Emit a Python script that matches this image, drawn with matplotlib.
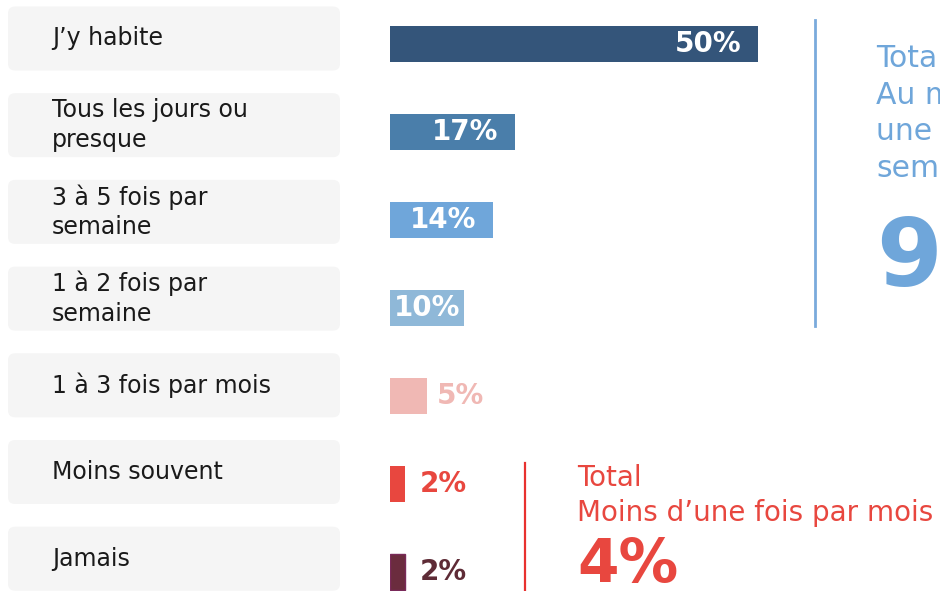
import matplotlib.pyplot as plt
from matplotlib.patches import FancyBboxPatch

# Data
categories = ["J\u2019y habite", "Tous les jours ou\npresque", "3 \u00e0 5 fois par\nsemaine",
              "1 \u00e0 2 fois par\nsemaine", "1 \u00e0 3 fois par mois", "Moins souvent", "Jamais"]
values = [50, 17, 14, 10, 5, 2, 2]
bar_colors = ["#34557A", "#4A7EAA", "#6FA6DA", "#8FB8D8", "#F0B8B4", "#E8473F", "#6B2C3E"]
label_colors = ["white", "white", "white", "white", "#F0B8B4", "#E8473F", "#5E2B36"]
weekly_idx = [0, 1, 2, 3]      # "Au moins une fois par semaine"
rare_idx = [5, 6]              # "Moins d'une fois par mois"

W, H = 940, 591
fig = plt.figure(figsize=(W / 100, H / 100), dpi=100)
fig.patch.set_facecolor("white")

# background layer in pixel units: label boxes, separators, totals
bg = fig.add_axes([0, 0, 1, 1], zorder=0)
bg.set_xlim(0, W)
bg.set_ylim(H, 0)
bg.axis("off")

for i, cat in enumerate(categories):
    c = 38.5 + 86.7 * i
    box = FancyBboxPatch((8, c - 32), 332, 64, boxstyle="round,pad=0,rounding_size=7",
                         facecolor="#F5F5F5", edgecolor="none")
    bg.add_patch(box)
    bg.text(52, c, cat, ha="left", va="center", fontsize=17, color="#1A1A1A",
            linespacing=1.3)

# bars
ax = fig.add_axes([390 / W, 0, 368 / W, 1], zorder=1)
ax.set_xlim(0, 50)
ax.set_ylim(H / 88 - 0.5, -0.5)
ax.axis("off")
ypos = list(range(len(values)))
ax.barh(ypos, values, height=0.41, color=bar_colors, edgecolor="none")
ax.patches[6].set_edgecolor("#7A2A5A")
ax.patches[6].set_linewidth(1)

for y, v, col in zip(ypos, values, label_colors):
    txt = f"{v}%"
    if v >= 10:
        pad = 2.3 if v > 12 else 0.4
        ax.text(v - pad, y, txt, ha="right", va="center", fontsize=20,
                fontweight="bold", color=col, clip_on=False)
    else:
        pad = 2.0 if v < 4 else 1.3
        ax.text(v + pad, y, txt, ha="left", va="center", fontsize=20,
                fontweight="bold", color=col, clip_on=False)

# totals
weekly_total = sum(values[i] for i in weekly_idx)
rare_total = sum(values[i] for i in rare_idx)

bg.plot([815, 815], [20, 326], color="#7AAADC", lw=2)
bg.text(876, 44, "Total\nAu moins\nune fois par\nsemaine", ha="left", va="top",
        fontsize=21.5, color="#6FA6DA", linespacing=1.33)
bg.text(876, 286, f"{weekly_total}%", ha="left", va="baseline", fontsize=68,
        fontweight="bold", color="#6FA6DA")

bg.plot([525, 525], [463, 591], color="#E8312F", lw=1.6)
bg.text(577, 464, "Total\nMoins d\u2019une fois par mois", ha="left", va="top",
        fontsize=20, color="#E8473F", linespacing=1.3)
bg.text(577, 582, f"{rare_total}%", ha="left", va="baseline", fontsize=43,
        fontweight="bold", color="#E8473F")

fig.savefig("out.png", dpi=100)
